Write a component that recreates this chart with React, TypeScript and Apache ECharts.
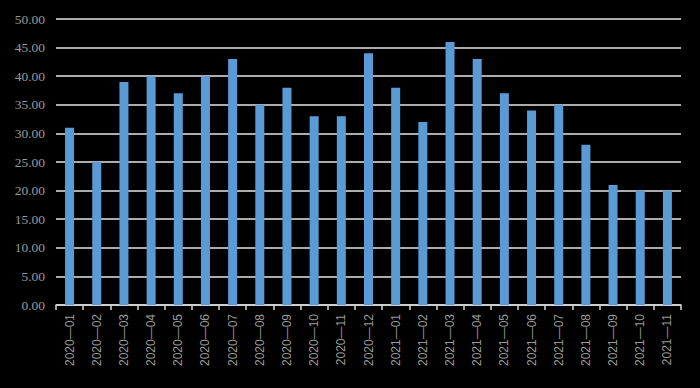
import React, { useEffect, useRef } from "react";
import * as echarts from "echarts";

const categories = [
  "2020—01", "2020—02", "2020—03", "2020—04", "2020—05", "2020—06", "2020—07", "2020—08",
  "2020—09", "2020—10", "2020—11", "2020—12", "2021—01", "2021—02", "2021—03", "2021—04",
  "2021—05", "2021—06", "2021—07", "2021—08", "2021—09", "2021—10", "2021—11",
];
const values = [31, 25, 39, 40, 37, 40, 43, 35, 38, 33, 33, 44, 38, 32, 46, 43, 37, 34, 35, 28, 21, 20, 20];

export default function App() {
  const ref = useRef<HTMLDivElement>(null);
  useEffect(() => {
    const chart = echarts.init(ref.current!, null, { renderer: "svg" });
    chart.setOption({
      animation: false,
      backgroundColor: "#000000",
      grid: { left: 56, right: 19, top: 19, bottom: 83 },
      xAxis: {
        type: "category",
        data: categories,
        boundaryGap: true,
        axisLine: { show: true, lineStyle: { color: "#d9d9d9", width: 1.5 } },
        axisTick: { show: true, length: 5, lineStyle: { color: "#d9d9d9", width: 1.5 } },
        axisLabel: {
          rotate: 90,
          interval: 0,
          color: "#9a9a9a",
          fontFamily: "Liberation Sans",
          fontSize: 12,
          margin: 9,
        },
      },
      yAxis: {
        type: "value",
        min: 0,
        max: 50,
        interval: 5,
        axisLine: { show: false },
        axisTick: { show: false },
        splitLine: { show: true, lineStyle: { color: "#e6e6e6", width: 1.5 } },
        axisLabel: {
          formatter: (v: number) => v.toFixed(2),
          color: "#9a9a9a",
          fontFamily: "Liberation Serif",
          fontSize: 13.5,
          margin: 11,
        },
      },
      series: [
        {
          type: "bar",
          data: values,
          barWidth: 9,
          itemStyle: { color: "#5b9bd5" },
        },
      ],
    });
    return () => chart.dispose();
  }, []);
  return <div ref={ref} style={{ width: 700, height: 388, position: "absolute", left: 0, top: 0 }} />;
}
